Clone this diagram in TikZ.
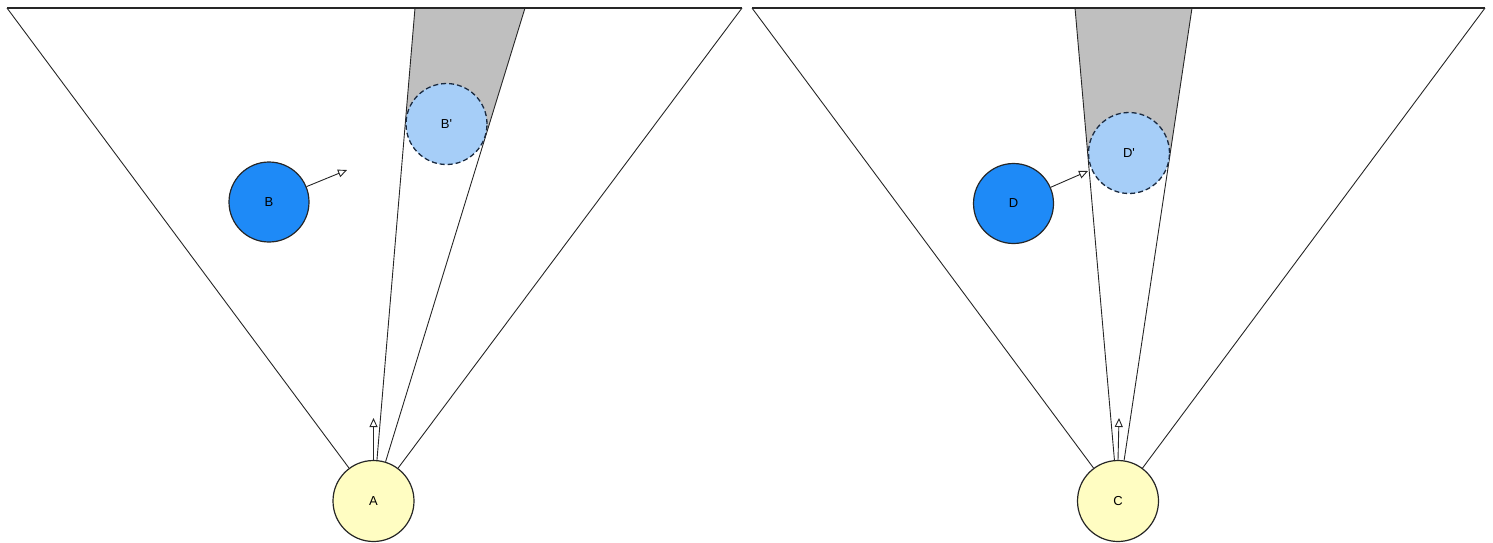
\documentclass[tikz,border=0pt]{standalone}
\usepackage{fontspec}
\setmainfont{Liberation Sans}
\usetikzlibrary{arrows.meta,calc}
\definecolor{paleyellow}{HTML}{FFFDC2}
\definecolor{bluefill}{HTML}{1E8AF7}
\definecolor{lightblue}{HTML}{A6CEF8}
\definecolor{shadowgray}{HTML}{BFBFBF}
\definecolor{edgeblue}{HTML}{1A2A40}
\begin{document}
\begin{tikzpicture}[x=1pt,y=-1pt,
  observer/.style={circle,draw=black!85,line width=1.2pt,fill=paleyellow,minimum size=81pt,inner sep=0pt,font=\fontsize{13}{15}\selectfont},
  body/.style={circle,draw=black!85,line width=1.2pt,fill=bluefill,minimum size=80pt,inner sep=0pt,font=\fontsize{13}{15}\selectfont},
  image/.style={circle,draw=edgeblue,line width=1.3pt,dash pattern=on 5pt off 3pt,fill=lightblue,minimum size=81pt,inner sep=0pt,font=\fontsize{13}{15}\selectfont},
  ray/.style={draw=black!85,line width=0.9pt},
  topline/.style={draw=black!85,line width=1.3pt},
  motion/.style={draw=black!85,line width=0.9pt,-{Triangle[open,length=9pt,width=8pt]}},
  shade/.style={fill=shadowgray}
]
\useasboundingbox (0,0) rectangle (1493,542);

% ---------- left panel ----------
\coordinate (ltl) at (7,8);
\coordinate (ltr) at (742,8);
\coordinate (lgl) at (415,8);
\coordinate (lgr) at (525,8);
\coordinate (btip) at (347,170);
\coordinate (atip) at (373.5,418);

\node[observer] (A) at (373.5,501) {A};

\fill[shade] (lgl) -- (lgr) -- ($(lgr)!0.27!(A.center)$) -- ($(lgl)!0.235!(A.center)$) -- cycle;

\draw[topline] (ltl) -- (ltr);
\draw[ray] (ltl) -- (A);
\draw[ray] (ltr) -- (A);
\draw[ray] (lgl) -- (A);
\draw[ray] (lgr) -- (A);
\draw[motion] (A.north) -- (atip);

\node[image] (Bp) at (446.5,124) {B\textquotesingle};
\node[body] (B) at (269,202) {B};
\draw[motion] (B) -- (btip);

% ---------- right panel ----------
\coordinate (rtl) at (752,8);
\coordinate (rtr) at (1485,8);
\coordinate (rgl) at (1075,8);
\coordinate (rgr) at (1192,8);
\coordinate (dtip) at (1088,171);
\coordinate (ctip) at (1119,418);

\node[observer] (C) at (1118,501) {C};

\fill[shade] (rgl) -- (rgr) -- ($(rgr)!0.31!(C.center)$) -- ($(rgl)!0.31!(C.center)$) -- cycle;

\draw[topline] (rtl) -- (rtr);
\draw[ray] (rtl) -- (C);
\draw[ray] (rtr) -- (C);
\draw[ray] (rgl) -- (C);
\draw[ray] (rgr) -- (C);
\draw[motion] (C.north) -- (ctip);

\node[image] (Dp) at (1129,153) {D\textquotesingle};
\node[body] (D) at (1013.5,203.5) {D};
\draw[motion] (D) -- (dtip);
\end{tikzpicture}
\end{document}
